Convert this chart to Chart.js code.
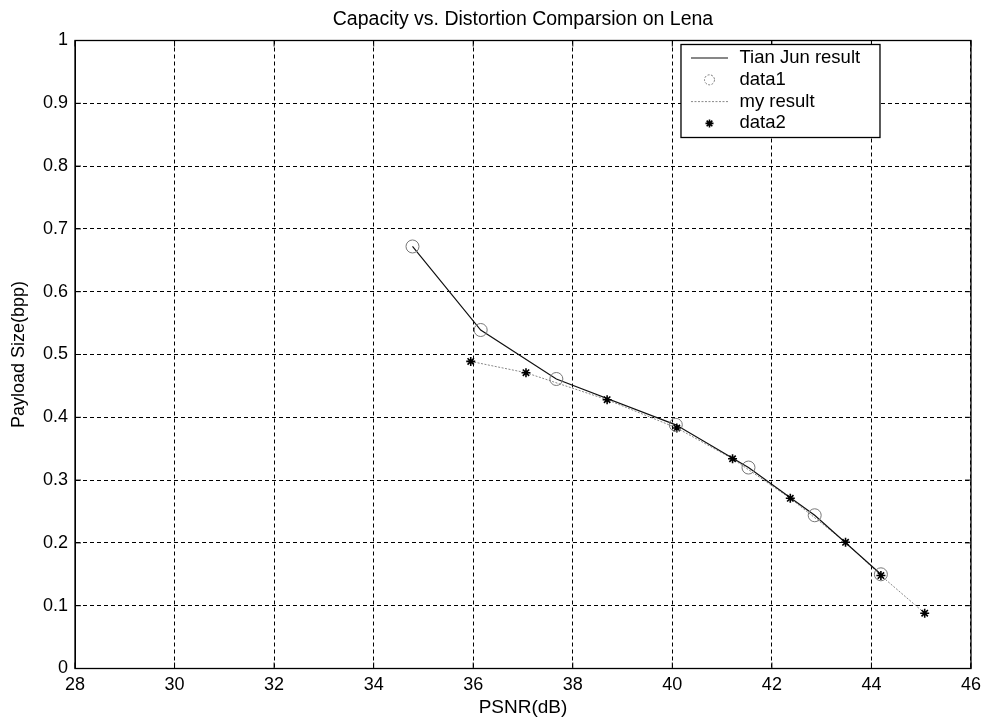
<!DOCTYPE html>
<html>
<head>
<meta charset="utf-8">
<script src="https://cdn.jsdelivr.net/npm/chart.js@4.4.0/dist/chart.umd.min.js"></script>
<style>
html,body{margin:0;padding:0;background:#fff;}
#wrap{width:987px;height:717px;}
</style>
</head>
<body>
<div id="wrap"><canvas id="c" width="987" height="717"></canvas></div>
<script>
const titleText = "Capacity vs. Distortion Comparsion on Lena";
const xLabel = "PSNR(dB)";
const yLabel = "Payload Size(bpp)";
const xTicks = [28, 30, 32, 34, 36, 38, 40, 42, 44, 46];
const yTicks = [0, 0.1, 0.2, 0.3, 0.4, 0.5, 0.6, 0.7, 0.8, 0.9, 1];

const tianPsnr = [34.78, 36.15, 37.67, 40.07, 41.53, 42.86, 44.19];
const tianPayload = [0.672, 0.539, 0.461, 0.388, 0.320, 0.244, 0.150];

const myPsnr = [35.95, 37.06, 38.69, 40.09, 41.21, 42.37, 43.48, 44.19, 45.07];
const myPayload = [0.489, 0.471, 0.428, 0.383, 0.334, 0.271, 0.201, 0.148, 0.088];

const seriesNames = ["Tian Jun result", "data1", "my result", "data2"];

const toPts = (xs, ys) => xs.map((x, i) => ({x: x, y: ys[i]}));

const FONT = "'Liberation Sans', Arial, Helvetica, sans-serif";

const frameAndLegend = {
  id: 'frameAndLegend',
  afterDraw(chart) {
    const ctx = chart.ctx;
    const a = chart.chartArea;
    ctx.save();
    // title centred over the plot box
    ctx.fillStyle = '#000';
    ctx.font = "19.5px " + FONT;
    ctx.textAlign = 'center';
    ctx.textBaseline = 'middle';
    ctx.fillText(titleText, (a.left + a.right) / 2, 19.5);
    ctx.restore();
  },
  afterDatasetsDraw(chart) {
    const ctx = chart.ctx;
    const a = chart.chartArea;
    ctx.save();
    // frame
    ctx.strokeStyle = '#000';
    ctx.lineWidth = 1.3;
    ctx.setLineDash([]);
    ctx.strokeRect(a.left, a.top, a.right - a.left, a.bottom - a.top);
    // tick marks inside
    const xs = chart.scales.x, ys = chart.scales.y;
    ctx.lineWidth = 1;
    xTicks.forEach(v => {
      const p = xs.getPixelForValue(v);
      ctx.beginPath(); ctx.moveTo(p, a.bottom); ctx.lineTo(p, a.bottom - 6); ctx.stroke();
      ctx.beginPath(); ctx.moveTo(p, a.top); ctx.lineTo(p, a.top + 6); ctx.stroke();
    });
    yTicks.forEach(v => {
      const p = ys.getPixelForValue(v);
      ctx.beginPath(); ctx.moveTo(a.left, p); ctx.lineTo(a.left + 6, p); ctx.stroke();
      ctx.beginPath(); ctx.moveTo(a.right, p); ctx.lineTo(a.right - 6, p); ctx.stroke();
    });
    // legend box
    const bx = a.right - 290, by = a.top + 4, bw = 199, bh = 93;
    ctx.fillStyle = '#fff';
    ctx.fillRect(bx, by, bw, bh);
    ctx.strokeStyle = '#000';
    ctx.lineWidth = 1.3;
    ctx.strokeRect(bx, by, bw, bh);
    ctx.font = "18.5px " + FONT;
    ctx.textBaseline = 'middle';
    ctx.textAlign = 'left';
    const ds = chart.data.datasets;
    ds.forEach((d, i) => {
      const ry = by + 13.5 + i * 21.8;
      const x0 = bx + 10, x1 = bx + 47, xm = (x0 + x1) / 2;
      if (d.showLine) {
        ctx.strokeStyle = d.borderColor;
        ctx.lineWidth = d.borderWidth;
        ctx.setLineDash(d.borderDash || []);
        ctx.beginPath(); ctx.moveTo(x0, ry); ctx.lineTo(x1, ry); ctx.stroke();
        ctx.setLineDash([]);
      } else {
        ctx.save();
        ctx.strokeStyle = d.pointBorderColor;
        ctx.lineWidth = d.pointBorderWidth;
        if (d.pointStyle === 'circle') {
          ctx.setLineDash([2, 1.5]);
          ctx.beginPath(); ctx.arc(xm, ry, 5, 0, Math.PI * 2); ctx.stroke();
        } else {
          Chart.helpers.drawPoint(ctx, {pointStyle: 'star', radius: 4, borderWidth: d.pointBorderWidth}, xm, ry);
        }
        ctx.restore();
      }
      ctx.fillStyle = '#000';
      ctx.fillText(d.label, bx + 58.5, ry);
    });
    ctx.restore();
  }
};

new Chart(document.getElementById('c'), {
  type: 'scatter',
  data: {
    datasets: [
      {
        label: seriesNames[0],
        data: toPts(tianPsnr, tianPayload),
        showLine: true,
        borderColor: '#111',
        borderWidth: 1.2,
        pointRadius: 0,
        order: 1
      },
      {
        label: seriesNames[1],
        data: toPts(tianPsnr, tianPayload),
        showLine: false,
        pointStyle: 'circle',
        pointRadius: 6.5,
        pointBorderColor: '#777',
        pointBackgroundColor: 'rgba(0,0,0,0)',
        pointBorderWidth: 1,
        order: 0
      },
      {
        label: seriesNames[2],
        data: toPts(myPsnr, myPayload),
        showLine: true,
        borderColor: '#888',
        borderWidth: 1,
        borderDash: [2, 1.5],
        pointRadius: 0,
        order: 2
      },
      {
        label: seriesNames[3],
        data: toPts(myPsnr, myPayload),
        showLine: false,
        pointStyle: 'star',
        pointRadius: 4.5,
        pointBorderColor: '#000',
        pointBackgroundColor: '#000',
        pointBorderWidth: 1.6,
        order: 0
      }
    ]
  },
  options: {
    responsive: false,
    animation: false,
    layout: {padding: {left: 0, right: 14, top: 40.5, bottom: 0}},
    plugins: {
      legend: {display: false},
      tooltip: {enabled: false},
      title: {display: false}
    },
    scales: {
      x: {
        type: 'linear',
        min: 28, max: 46,
        afterBuildTicks: s => { s.ticks = xTicks.map(v => ({value: v})); },
        afterFit: s => { s.height = 48.5; },
        ticks: {color: '#000', font: {family: FONT, size: 18}, padding: 6, maxRotation: 0},
        grid: {color: '#000', lineWidth: 1, drawTicks: false},
        border: {display: true, color: '#000', dash: [4, 3]},
        title: {display: true, text: xLabel, color: '#000', font: {family: FONT, size: 19, lineHeight: 1}, padding: {top: 0, bottom: 0}}
      },
      y: {
        type: 'linear',
        min: 0, max: 1,
        afterBuildTicks: s => { s.ticks = yTicks.map(v => ({value: v})); },
        afterFit: s => { s.width = 75; },
        ticks: {color: '#000', font: {family: FONT, size: 18}, padding: 7, callback: v => String(v)},
        grid: {color: '#000', lineWidth: 1, drawTicks: false},
        border: {display: true, color: '#000', dash: [4, 3]},
        title: {display: true, text: yLabel, color: '#000', font: {family: FONT, size: 18, lineHeight: 1}, padding: {top: 10, bottom: 0}}
      }
    }
  },
  plugins: [frameAndLegend]
});
</script>
</body>
</html>
